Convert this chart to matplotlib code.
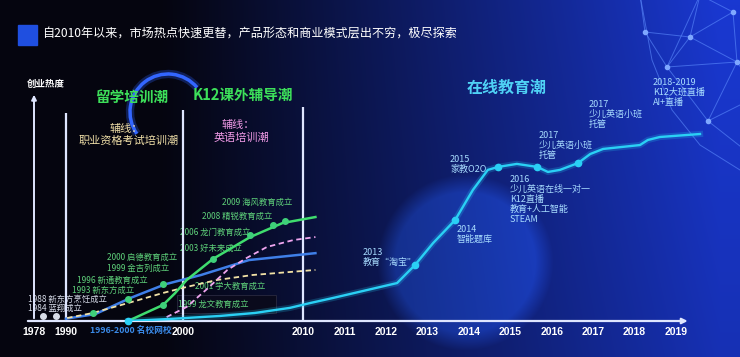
import numpy as np
import matplotlib
matplotlib.use("Agg")
import matplotlib.pyplot as plt
from matplotlib.patches import Arc, Rectangle

plt.rcParams['font.family'] = ['Noto Sans CJK SC', 'DejaVu Sans']

# ---- data (years on x, "startup heat" on y) ----
tick_years = [1978, 1990, 2000, 2010, 2011, 2012, 2013, 2014, 2015, 2016, 2017, 2018, 2019]

abroad_years = [1990, 1992.5, 1995.5, 1998.5, 2001.5, 2005.5, 2010.3]
abroad_heat = [1, 3, 10, 16, 20, 26.5, 29.5]

k12_years = [1995.3, 1998.3, 1999.3, 2000.3, 2002.5, 2005.6, 2008.3, 2010.3]
k12_heat = [0, 7, 12, 17.8, 27, 36.5, 42.6, 45.2]

english_years = [1998.6, 2000.3, 2002.0, 2003.7, 2005.3, 2007.0, 2009.2, 2010.3]
english_heat = [1.7, 6.1, 13.9, 22.2, 27.4, 32.2, 35.2, 36.5]

exam_years = [1990.1, 1992.3, 1995.3, 1998.3, 2000.3, 2002.8, 2005.8, 2010.3]
exam_heat = [1.3, 3.5, 7.8, 12.2, 14.8, 17.8, 20, 22.2]

online_years = [1995.3, 1998.9, 2003.1, 2006.0, 2008.9, 2010.17, 2010.72, 2012.27, 2012.7,
                2013.14, 2013.67, 2014.1, 2014.46, 2014.71, 2015.16, 2015.65, 2015.91,
                2016.2, 2016.64, 2016.93, 2017.24, 2018.13, 2018.32, 2018.61, 2019.58]
online_heat = [0, 0.9, 2.2, 3.5, 5.7, 7.8, 10, 16.5, 24.3, 33.9, 43.9, 57, 65.7, 67, 68.3,
               67, 64.8, 65.7, 68.7, 72.6, 74.8, 76.5, 78.7, 80, 81.3]

early_pts_years = [1981.3, 1986.4]
early_pts_heat = [2.2, 2.2]
abroad_pts_years = [1992.3, 1995.3, 1998.3]
abroad_pts_heat = [3.5, 9.6, 16.1]
k12_pts_years = [1998.3, 2002.5, 2005.6, 2007.5, 2008.5]
k12_pts_heat = [7, 27, 37.4, 41.7, 43.5]
online_pts_years = [1995.3, 2012.7, 2013.67, 2014.71, 2015.65, 2016.64]
online_pts_heat = [0, 24.3, 43.9, 67, 67, 68.7]

era_years = [1990, 2000, 2010]
era_tops = [90.4, 91.7, 93]

early_events = ["1988 新东方烹饪成立", "1984 蓝翔成立"]
abroad_events = ["1993 新东方成立", "1996 新通教育成立", "1999 金吉列成立", "2000 启德教育成立"]
k12_events = ["1999 龙文教育成立", "2001 学大教育成立", "2003 好未来成立",
              "2006 龙门教育成立", "2008 精锐教育成立", "2009 海风教育成立"]
online_events = ["2013\n教育“淘宝”", "2014\n智能题库", "2015\n家教O2O",
                 "2016\n少儿英语在线一对一\nK12直播\n教育+人工智能\nSTEAM",
                 "2017\n少儿英语小班\n托管", "2017\n少儿英语小班\n托管",
                 "2018-2019\nK12大班直播\nAI+直播"]

# ---- layout (pixel positions of the slide) ----
W, H = 740, 357
base_px = 321
px_per_heat = 2.3
knot_years = [1958, 1978, 1990, 2000, 2010, 2019, 2029]
knot_px = [-20, 34, 66, 183, 303, 676, 1090]

def fwd(y):
    return np.interp(y, knot_years, knot_px)

def inv(p):
    return np.interp(p, knot_px, knot_years)

fig = plt.figure(figsize=(W / 100, H / 100), dpi=100)

# background slide
bg = fig.add_axes([0, 0, 1, 1])
bg.set_xlim(0, W)
bg.set_ylim(H, 0)
bg.axis('off')
xx, yy = np.meshgrid(np.arange(W), np.arange(H))
t = np.clip((xx - 160) / 560.0, 0, 1) ** 1.05
t = t * (1 - 0.15 * yy / H)
dark = np.array([0.02, 0.02, 0.06])
bright = np.array([0.10, 0.22, 0.82])
img = dark[None, None, :] * (1 - t[..., None]) + bright[None, None, :] * t[..., None]
d = np.hypot(xx - 465, yy - 262)
g = np.clip((88 - d) / 18.0, 0, 1) * 0.8
img = img + g[..., None] * np.array([0.04, 0.12, 0.28])[None, None, :]
img = np.clip(img, 0, 1)
bg.imshow(img, extent=[0, W, H, 0], aspect='auto', zorder=0)

# network decoration top right
nodes = {'a': (645, 32), 'b': (690, 37), 'c': (733, 12), 'd': (667, 67), 'e': (737, 62),
         'f': (708, 121), 'g': (700, -5), 'h': (640, -5), 'i': (745, 150), 'j': (760, 95)}
edges = ['ab', 'ad', 'bc', 'bd', 'be', 'de', 'df', 'ef', 'bg', 'ah', 'cg', 'ce', 'fi', 'ej', 'fj', 'dg']
for e in edges:
    (x1, y1), (x2, y2) = nodes[e[0]], nodes[e[1]]
    bg.plot([x1, x2], [y1, y2], color='#5d8cff', lw=0.7, alpha=0.6, zorder=1)
bg.plot([640, 652, 672, 700, 740], [-5, 60, 110, 145, 170], color='#5d8cff', lw=0.7, alpha=0.6)
for k in 'abcdef':
    bg.plot(*nodes[k], 'o', ms=3, color='#7fa8ff', zorder=2)

# ring decoration
bg.add_patch(Arc((168, 112), 76, 76, theta1=145, theta2=320, color='#2a5cf0', lw=6, alpha=0.3))
bg.add_patch(Arc((168, 112), 76, 76, theta1=145, theta2=320, color='#3366ff', lw=2.5))

# title
bg.add_patch(Rectangle((18, 25), 19, 20, color='#1f4fe0'))
bg.text(42, 34, "自2010年以来，市场热点快速更替，产品形态和商业模式层出不穷，极尽探索",
        color='white', fontsize=8.7, fontweight='medium', va='center', ha='left')

# dark box behind 龙文
bg.add_patch(Rectangle((177, 295), 99, 18, facecolor='#0a0a1c', edgecolor='#2a2a40', lw=0.6))

# ---- chart axes ----
ax = fig.add_axes([0, (H - base_px) / H, 1, base_px / H])
ax.patch.set_alpha(0)
ax.set_xscale('function', functions=(fwd, inv))
ax.set_xlim(inv(0), inv(W))
ax.set_ylim(0, base_px / px_per_heat)
for s in ax.spines.values():
    s.set_visible(False)
ax.set_yticks([])
ax.set_xticks(tick_years)
ax.set_xticklabels([str(y) for y in tick_years], color='white', fontsize=7.5,
                   fontweight='bold', family=['Liberation Sans', 'DejaVu Sans'])
ax.tick_params(axis='x', length=0, pad=4)
ax.minorticks_off()

line_col = '#dfe6ff'
ax.annotate('', xy=(2019.35, 0), xytext=(1974.7, 0), annotation_clip=False,
            arrowprops=dict(arrowstyle='-|>', color=line_col, lw=1.6, mutation_scale=8))
ax.annotate('', xy=(1978, 99.6), xytext=(1978, 0), annotation_clip=False,
            arrowprops=dict(arrowstyle='-|>', color=line_col, lw=1.4, mutation_scale=7))
ax.vlines(era_years, 0, era_tops, colors=line_col, lw=1.6)

ax.plot(abroad_years, abroad_heat, color='#3f7fe8', lw=1.8, zorder=3)
ax.plot(exam_years, exam_heat, color='#f2e2a6', lw=1.3, ls=(0, (3, 2)), zorder=3)
ax.plot(english_years, english_heat, color='#f0a6f0', lw=1.3, ls=(0, (3, 2)), zorder=3)
ax.plot(k12_years, k12_heat, color='#3fdc6e', lw=1.8, zorder=3)
ax.plot(online_years, online_heat, color='#25c8f0', lw=4.5, alpha=0.22, zorder=3)
ax.plot(online_years, online_heat, color='#2ad0f5', lw=1.7, zorder=3)

ax.plot(early_pts_years, early_pts_heat, 'o', ms=4, color='#d8dde8', zorder=4, clip_on=False)
ax.plot(abroad_pts_years, abroad_pts_heat, 'o', ms=4, color='#3fd07a', zorder=4)
ax.plot(k12_pts_years, k12_pts_heat, 'o', ms=4, color='#3fd07a', zorder=4)
ax.plot(online_pts_years, online_pts_heat, 'o', ms=4.5, color='#2ad0f5', zorder=4, clip_on=False)

# ---- text annotations (slide pixel positions) ----
early_pos = [(28, 299), (28, 308)]
for s, (x, y) in zip(early_events, early_pos):
    bg.text(x, y, s, color='#d6dbe8', fontsize=6, va='center', ha='left')
abroad_pos = [(72, 290), (77, 280), (107, 268), (107, 257)]
for s, (x, y) in zip(abroad_events, abroad_pos):
    bg.text(x, y, s, color='#5ed07a', fontsize=6, va='center', ha='left')
k12_pos = [(178, 304), (195, 286), (180, 248), (180, 232), (202, 216), (222, 202)]
for s, (x, y) in zip(k12_events, k12_pos):
    bg.text(x, y, s, color='#5ed07a', fontsize=6, va='center', ha='left')
online_pos = [(363, 248), (457, 225), (450, 155), (510, 175), (539, 131), (589, 100), (653, 78)]
for s, (x, y) in zip(online_events, online_pos):
    bg.text(x, y, s, color='#a8dcff', fontsize=6.5, va='top', ha='left', linespacing=1.15)

bg.text(172, 331, "1996-2000 名校网校", color='#3a8ae8', fontsize=6.3, fontweight='bold',
        va='center', ha='right')
bg.text(46, 84, "创业热度", color='white', fontsize=6.8, fontweight='bold', ha='center', va='center')
bg.text(132, 97, "留学培训潮", color='#3de05a', fontsize=10.5, fontweight='bold', ha='center', va='center')
bg.text(243, 95, "K12课外辅导潮", color='#3de05a', fontsize=10.5, fontweight='bold', ha='center', va='center')
bg.text(507, 88, "在线教育潮", color='#4fd2f5', fontsize=11.5, fontweight='bold', ha='center', va='center')
bg.text(126, 129, "辅线：", color='#f0dfa8', fontsize=8, ha='center', va='center')
bg.text(129, 141, "职业资格考试培训潮", color='#f0dfa8', fontsize=8, ha='center', va='center')
bg.text(238, 125, "辅线：", color='#f09ae6', fontsize=8, ha='center', va='center')
bg.text(241, 138, "英语培训潮", color='#f09ae6', fontsize=8, ha='center', va='center')

fig.savefig('out.png', dpi=100)
